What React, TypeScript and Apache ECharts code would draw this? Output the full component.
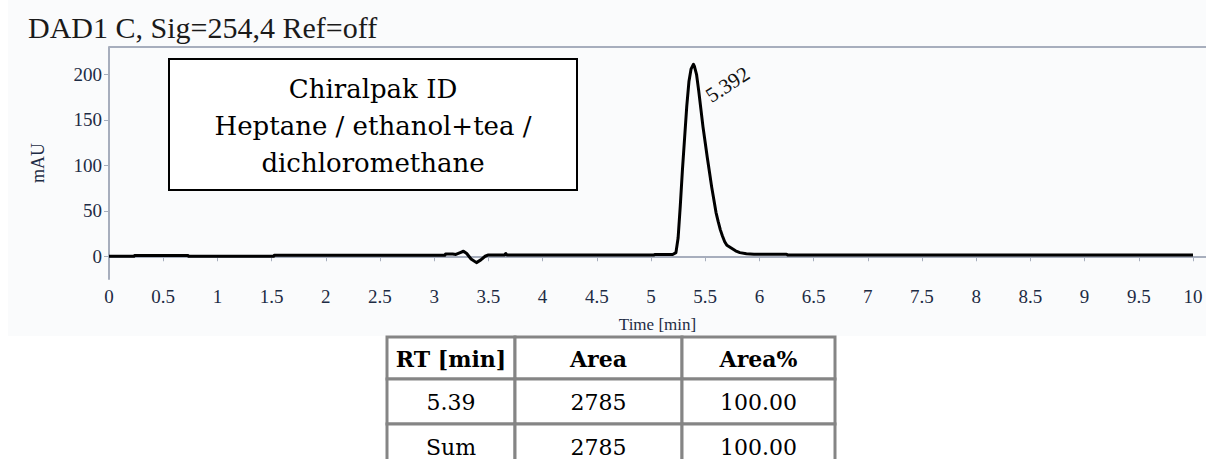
import { useEffect, useRef } from "react";
import * as echarts from "echarts";

// Chromatogram trace, DAD1 C (254 nm): retention time [min] and absorbance [mAU]
const TIME_MIN = [
  0, 0.23, 0.235, 0.73, 0.735, 1.52, 1.525, 3.1, 3.105, 3.17, 3.2, 3.24, 3.27, 3.3, 3.34, 3.39, 3.43,
  3.47, 3.5, 3.65, 3.66, 3.67, 5.03, 5.035, 5.2, 5.23, 5.25, 5.27, 5.29, 5.31, 5.33, 5.35, 5.37, 5.392,
  5.4, 5.42, 5.44, 5.46, 5.48, 5.5, 5.52, 5.54, 5.56, 5.58, 5.6, 5.62, 5.64, 5.66, 5.68, 5.7, 5.74,
  5.78, 5.82, 5.88, 5.95, 6.25, 6.26, 10,
];
const SIGNAL_MAU = [
  0, 0, 0.8, 0.8, 0, 0, 1.2, 1.2, 2.5, 2.5, 2, 4, 5.5, 3, -3, -7, -4,
  0, 1.5, 1.5, 3, 1.5, 1.5, 2, 2, 4, 20, 55, 95, 130, 165, 192, 206, 211,
  209, 200, 182, 162, 142, 125, 108, 92, 76, 62, 48, 38, 29, 22, 16, 12, 9,
  6, 4, 2.8, 2.2, 2.2, 1.5, 1.5,
];

const Y_TICKS = [0, 50, 100, 150, 200];
const PEAK_RT = 5.392;
const PEAK_HEIGHT = 211;

const SIGNAL_TITLE = "DAD1 C, Sig=254,4 Ref=off";
const METHOD_LINES = ["Chiralpak ID", "Heptane / ethanol+tea /", "dichloromethane"];

const TABLE_HEADERS = ["RT [min]", "Area", "Area%"];
const TABLE_ROWS = [
  ["5.39", "2785", "100.00"],
  ["Sum", "2785", "100.00"],
];

const AXIS_TEXT = "#1d2b44";
const AXIS_LINE = "#a7aebd";
const SERIF = "'Liberation Serif', 'Times New Roman', serif";
const BOOK = "'DejaVu Serif', serif";

export default function App() {
  const ref = useRef<HTMLDivElement>(null);

  useEffect(() => {
    if (!ref.current) return;
    const chart = echarts.init(ref.current, undefined, { renderer: "svg" });

    const data = TIME_MIN.map((t, i) => [t, SIGNAL_MAU[i]]);

    chart.setOption({
      animation: false,
      backgroundColor: "#ffffff",
      grid: { left: 109, top: 47, width: 1097, height: 232, containLabel: false },
      xAxis: {
        type: "value",
        min: 0,
        max: 10.12,
        interval: 0.5,
        name: "Time [min]",
        nameLocation: "middle",
        nameGap: 37,
        nameTextStyle: { fontFamily: SERIF, fontSize: 17, color: AXIS_TEXT },
        axisLine: { show: true, lineStyle: { color: AXIS_LINE, width: 2 } },
        axisTick: { show: true, length: 5, lineStyle: { color: AXIS_LINE, width: 1 } },
        axisLabel: {
          showMaxLabel: false,
          margin: 8,
          fontFamily: SERIF,
          fontSize: 19,
          color: AXIS_TEXT,
          formatter: (v: number) => String(v),
        },
        splitLine: { show: false },
      },
      yAxis: {
        type: "value",
        min: -25,
        max: 230,
        name: "mAU",
        nameLocation: "middle",
        nameGap: 62,
        nameTextStyle: { fontFamily: SERIF, fontSize: 18, color: AXIS_TEXT },
        axisLine: { show: true, lineStyle: { color: AXIS_LINE, width: 2 } },
        axisTick: {
          show: true,
          length: 5,
          customValues: Y_TICKS,
          lineStyle: { color: AXIS_LINE, width: 1 },
        },
        axisLabel: {
          customValues: Y_TICKS,
          margin: 7,
          fontFamily: SERIF,
          fontSize: 19,
          color: AXIS_TEXT,
        },
        splitLine: { show: false },
      },
      series: [
        {
          type: "line",
          data,
          showSymbol: false,
          symbol: "none",
          lineStyle: { color: "#000000", width: 3, join: "round" },
          z: 3,
        },
      ],
    });

    const apex = chart.convertToPixel({ xAxisIndex: 0, yAxisIndex: 0 }, [PEAK_RT, PEAK_HEIGHT]) as number[];

    const colEdges = [387, 515, 682, 835];
    const rowEdges = [337, 379, 424, 469];
    const cells: any[] = [];
    const rows = [TABLE_HEADERS, ...TABLE_ROWS];
    rows.forEach((row, r) => {
      row.forEach((txt, c) => {
        const x0 = colEdges[c];
        const x1 = colEdges[c + 1];
        const y0 = rowEdges[r];
        const y1 = rowEdges[r + 1];
        cells.push({
          type: "rect",
          shape: { x: x0, y: y0, width: x1 - x0, height: y1 - y0 },
          style: { fill: "#ffffff", stroke: "#858585", lineWidth: 3 },
          z: 10,
        });
        cells.push({
          type: "text",
          x: (x0 + x1) / 2,
          y: (y0 + y1) / 2 + 1,
          style: {
            text: txt,
            align: "center",
            verticalAlign: "middle",
            font: `${r === 0 ? "bold " : ""}22px ${BOOK}`,
            fill: "#000000",
          },
          z: 11,
        });
      });
    });

    chart.setOption({
      graphic: [
        {
          type: "rect",
          shape: { x: 8, y: 0, width: 1198, height: 336 },
          style: { fill: "#fafbfc" },
          z: -10,
          silent: true,
        },
        {
          type: "line",
          shape: { x1: 109, y1: 47, x2: 1206, y2: 47 },
          style: { stroke: AXIS_LINE, lineWidth: 2 },
          z: 1,
        },
        {
          type: "text",
          x: 28,
          y: 27,
          style: {
            text: SIGNAL_TITLE,
            font: `30px ${SERIF}`,
            fill: "#1a1a1a",
            align: "left",
            verticalAlign: "middle",
          },
        },
        {
          type: "rect",
          shape: { x: 169, y: 59, width: 408, height: 131 },
          style: { fill: "#ffffff", stroke: "#000000", lineWidth: 2 },
          z: 5,
        },
        ...METHOD_LINES.map((line, i) => ({
          type: "text",
          x: 373,
          y: 89 + i * 37,
          style: {
            text: line,
            align: "center",
            verticalAlign: "middle",
            font: `26px ${BOOK}`,
            fill: "#000000",
          },
          z: 6,
        })),
        {
          type: "text",
          x: apex[0] + 20,
          y: apex[1] + 42,
          rotation: (33 * Math.PI) / 180,
          style: {
            text: PEAK_RT.toFixed(3),
            align: "left",
            verticalAlign: "bottom",
            font: `21px ${SERIF}`,
            fill: "#111111",
          },
          z: 6,
        },
        ...cells,
      ],
    });

    return () => chart.dispose();
  }, []);

  return (
    <div
      ref={ref}
      style={{ position: "fixed", left: 0, top: 0, width: 1206, height: 459 }}
    />
  );
}
